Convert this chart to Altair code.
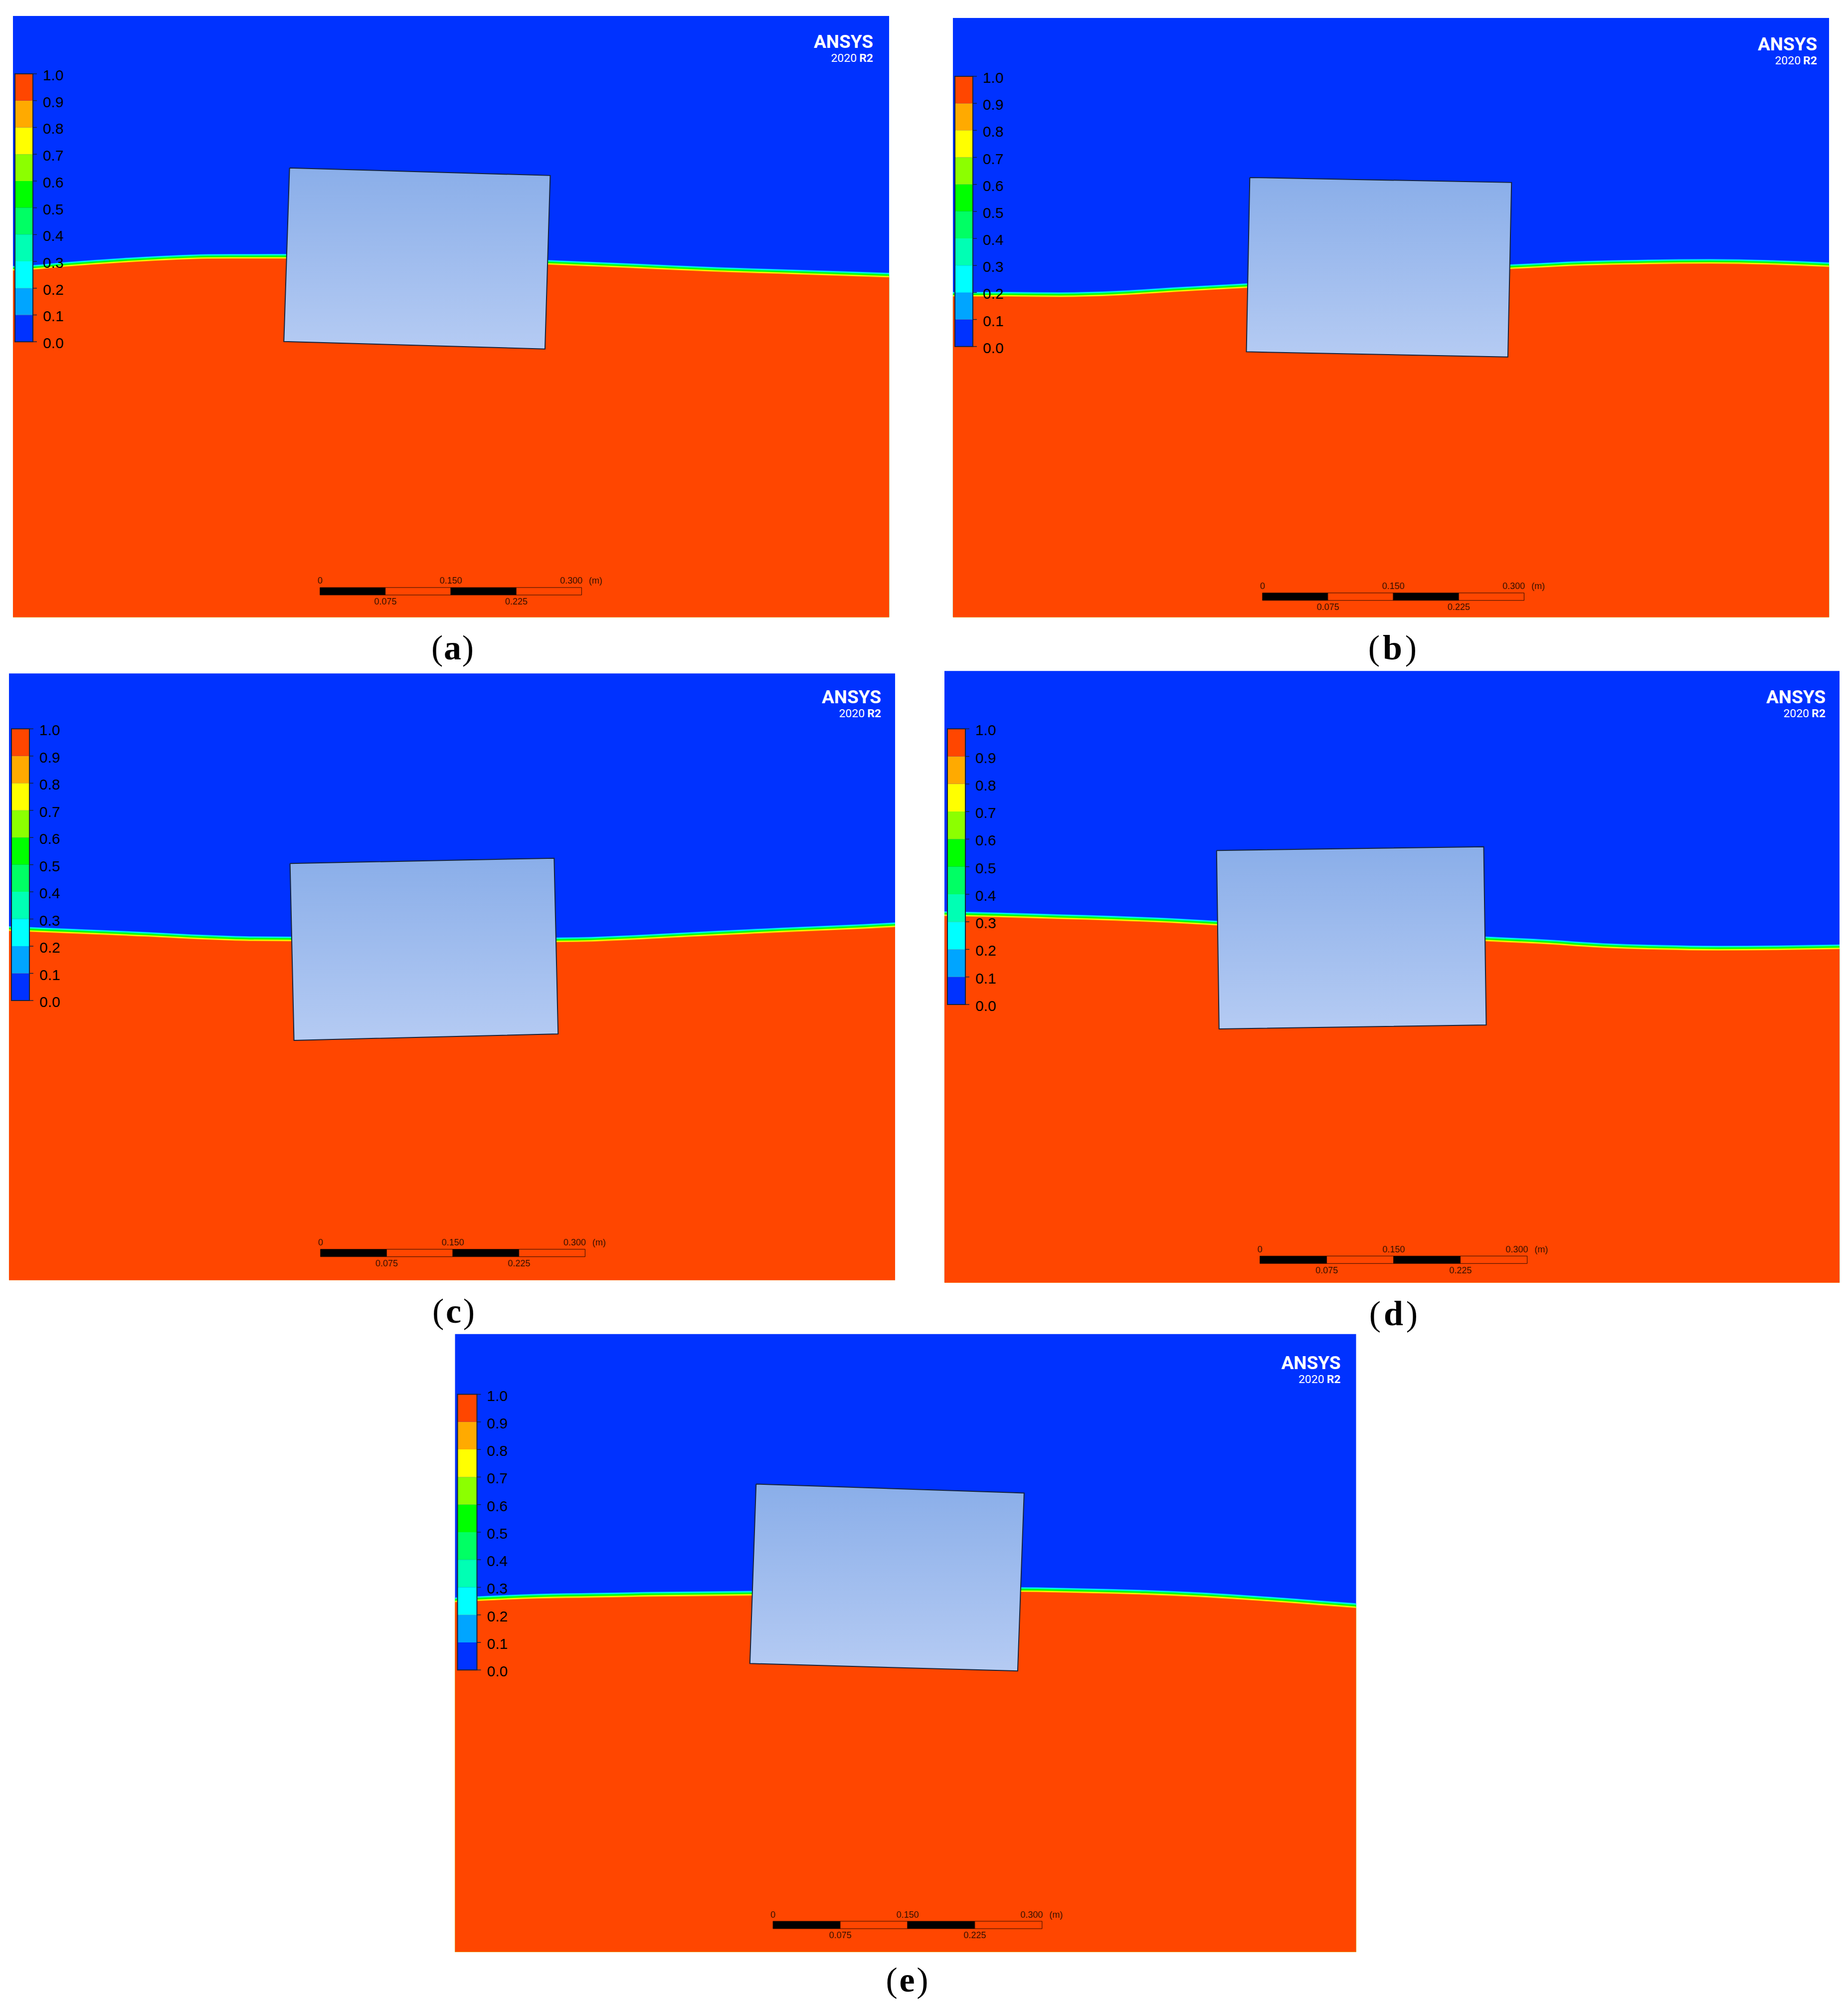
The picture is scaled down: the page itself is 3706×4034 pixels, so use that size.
import altair as alt
import pandas as pd

# ---- values, in metres (x from the panel's left edge, y from its bottom) ----
letters = ["a", "b", "c", "d", "e"]

wave_x_a = [0, .0238, .0615, .1263, .1911, .2234, .3131, .6126, .7101, .8074, .9046, 1.0046]
wave_y_a = [.3971, .3983, .4017, .4063, .4097, .4107, .4109, .4040, .4000, .3958, .3926, .3893]
wave_x_b = [0, .0580, .1229, .1877, .2526, .3369, .6385, .6743, .7066, .7714, .8686, .9337, 1.0046]
wave_y_b = [.3674, .3674, .3669, .3686, .3726, .3773, .3989, .4006, .4023, .4040, .4051, .4040, .4013]
wave_x_c = [0, .0247, .0927, .1576, .2226, .2678, .3198, .6201, .6441, .7090, .7740, .8388, .9034, .9684, 1.0045]
wave_y_c = [.3957, .3947, .3919, .3891, .3859, .3844, .3840, .3829, .3832, .3857, .3891, .3923, .3953, .3981, .4000]
wave_x_d = [0, .0617, .1263, .1909, .2554, .3058, .6073, .6751, .7397, .8043, .8686, .9333, 1.0045]
wave_y_d = [.4112, .4098, .4079, .4060, .4034, .4006, .3829, .3796, .3754, .3734, .3725, .3729, .3740]
wave_x_e = [0, .0278, .0922, .1567, .2211, .3309, .6306, .7050, .7694, .8339, .8983, .9628, 1.0044]
wave_y_e = [.3896, .3910, .3936, .3947, .3958, .3969, .4010, .3996, .3979, .3951, .3910, .3862, .3831]

# floating body corners: top-left, top-right, bottom-right, bottom-left
body_x_a = [.3171, .6160, .6100, .3106]
body_y_a = [.5149, .5063, .3074, .3160]
body_x_b = [.3404, .6405, .6363, .3365]
body_y_b = [.5040, .4983, .2983, .3042]
body_x_c = [.3186, .6180, .6225, .3231]
body_y_c = [.4723, .4782, .2791, .2718]
body_x_d = [.3054, .6052, .6080, .3082]
body_y_d = [.4849, .4891, .2891, .2847]
body_x_e = [.3356, .6344, .6272, .3287]
body_y_e = [.5214, .5114, .3131, .3214]

waves = dict(a=(wave_x_a, wave_y_a), b=(wave_x_b, wave_y_b), c=(wave_x_c, wave_y_c),
             d=(wave_x_d, wave_y_d), e=(wave_x_e, wave_y_e))
bodies = dict(a=(body_x_a, body_y_a), b=(body_x_b, body_y_b), c=(body_x_c, body_y_c),
              d=(body_x_d, body_y_d), e=(body_x_e, body_y_e))

# scale bar
bar_ticks = [0, .075, .15, .225, .3]
bar_start = dict(a=.3520, b=.3549, c=.3531, d=.3540, e=.3544)
bar_y = dict(a=.0297, b=.0235, c=.0308, d=.0257, e=.0300)

# colour legend
legend_levels = [0.0, 0.1, 0.2, 0.3, 0.4, 0.5, 0.6, 0.7, 0.8, 0.9, 1.0]
legend_labels = ["0.0", "0.1", "0.2", "0.3", "0.4", "0.5", "0.6", "0.7", "0.8", "0.9", "1.0"]
legend_colors = ["#0032ff", "#00a5ff", "#00ffff", "#00ffb4", "#00ff64", "#00ff00",
                 "#8cff00", "#ffff00", "#ffaa00", "#ff4600"]

BLUE = "#0032ff"
RED = "#ff4600"
# interface layers, from the air side to the water side: offset above the water line (m), colour
band_offsets = [.0055, .0050, .0042, .0035, .0020, .0016, .0006, 0]
band_colors = ["#00a5ff", "#00ffff", "#00ffa0", "#00ff00", "#90ff00", "#ffff00", "#ffa500", RED]

# ---- layout on the page, in pixels: panel box, px per metre, page cell ----
box = dict(a=(26, 31, 1784, 1237), b=(1912, 35, 3670, 1237), c=(18, 1350, 1796, 2567),
           d=(1895, 1345, 3691, 2572), e=(913, 2675, 2721, 3914.5))
kpm = dict(a=1750, b=1750, c=1770, d=1788, e=1800)
cell = dict(a=(18, 31, 1850, 1345), b=(1850, 31, 3700, 1345), c=(18, 1345, 1850, 2675),
            d=(1850, 1345, 3700, 2675), e=(18, 2675, 3700, 4020))
cb_left = dict(a=4, b=4, c=5, d=6, e=5)
cb_w = dict(a=36, b=36, c=36, d=36, e=39)
cb_top = dict(a=116, b=117, c=111, d=116, e=121)
cb_h = dict(a=537.5, b=542, c=545, d=553, e=553)
logo_right = dict(a=32, b=24, c=28, d=28, e=31)
logo_top = dict(a=53, b=54, c=49, d=54, e=59)
caption_below = dict(a=85, b=85, c=85, d=85, e=80)
caption_gap = dict(a=31, b=37, c=31, d=37, e=31)

SANS = "Liberation Sans"
LOGO = "Roboto"
DARK = "#14233c"


def polygon_area(xs, ys):
    """Upper and lower outline of a convex quadrilateral, sampled at its corner x values."""
    out = []
    for x in sorted(xs):
        hits = []
        for i in range(4):
            x1, y1, x2, y2 = xs[i], ys[i], xs[(i + 1) % 4], ys[(i + 1) % 4]
            if min(x1, x2) <= x <= max(x1, x2) and x1 != x2:
                hits.append(y1 + (y2 - y1) * (x - x1) / (x2 - x1))
        out.append(dict(x=x, y=max(hits), y2=min(hits)))
    return pd.DataFrame(out)


def panel(p):
    bx0, by0, bx1, by1 = box[p]
    k = kpm[p]
    cx0, cy0, cx1, cy1 = cell[p]
    W, H = (bx1 - bx0) / k, (by1 - by0) / k
    dom_x = [(cx0 - bx0) / k, (cx1 - bx0) / k]
    dom_y = [(by1 - cy1) / k, (by1 - cy0) / k]
    X = lambda f="x": alt.X(f + ":Q", scale=alt.Scale(domain=dom_x, nice=False, zero=False), axis=None)
    Y = lambda f="y": alt.Y(f + ":Q", scale=alt.Scale(domain=dom_y, nice=False, zero=False), axis=None)
    rows = lambda **c: pd.DataFrame(c)
    layers = []

    # air and water
    layers.append(alt.Chart(rows(x=[0], x2=[W], y=[0], y2=[H])).mark_rect(color=BLUE).encode(
        X(), alt.X2("x2:Q"), Y(), alt.Y2("y2:Q")))
    wx, wy = waves[p]
    for off, col in zip(band_offsets, band_colors):
        df = rows(x=wx, y=[v + off for v in wy], y2=[0] * len(wx))
        layers.append(alt.Chart(df).mark_area(color=col, interpolate="monotone").encode(
            X(), Y(), alt.Y2("y2:Q")))

    # body
    bx, by = bodies[p]
    grad = alt.Gradient(gradient="linear", x1=0, x2=0, y1=0, y2=1,
                        stops=[alt.GradientStop(color="#8aaee9", offset=0),
                               alt.GradientStop(color="#b5cbf3", offset=1)])
    layers.append(alt.Chart(polygon_area(bx, by)).mark_area(color=grad).encode(
        X(), Y(), alt.Y2("y2:Q")))
    outline = rows(x=bx + bx[:1], y=by + by[:1], o=list(range(5)))
    layers.append(alt.Chart(outline).mark_line(color=DARK, strokeWidth=2).encode(
        X(), Y(), order="o:Q"))

    # colour legend
    lx0 = cb_left[p] / k
    lx1 = (cb_left[p] + cb_w[p]) / k
    ltop = H - cb_top[p] / k
    lbot = H - (cb_top[p] + cb_h[p]) / k
    ypos = [lbot + v * (ltop - lbot) for v in legend_levels]
    seg = rows(x=[lx0] * 10, x2=[lx1] * 10, y=ypos[:-1], y2=ypos[1:], c=legend_colors)
    layers.append(alt.Chart(seg).mark_rect().encode(
        X(), alt.X2("x2:Q"), Y(), alt.Y2("y2:Q"), alt.Color("c:N", scale=None)))
    layers.append(alt.Chart(rows(x=[lx0], x2=[lx1], y=[lbot], y2=[ltop])).mark_rect(
        fill="transparent", stroke=DARK, strokeWidth=2).encode(
        X(), alt.X2("x2:Q"), Y(), alt.Y2("y2:Q")))
    layers.append(alt.Chart(rows(x=[lx1] * 11, x2=[lx1 + 8 / k] * 11, y=ypos)).mark_rule(
        color=DARK, strokeWidth=1.5).encode(X(), alt.X2("x2:Q"), Y()))
    layers.append(alt.Chart(rows(x=[lx1 + 20 / k] * 11, y=ypos, t=legend_labels)).mark_text(
        font=SANS, fontSize=30, align="left", baseline="middle", dy=4, color="#000000").encode(
        X(), Y(), text="t:N"))

    # scale bar
    s0, sy = bar_start[p], bar_y[p]
    half = 7.5 / k
    tx = [s0 + t for t in bar_ticks]
    qd = rows(x=tx[:-1], x2=tx[1:], y=[sy - half] * 4, y2=[sy + half] * 4,
              c=["#000000", RED, "#000000", RED])
    layers.append(alt.Chart(qd).mark_rect(stroke="#2a0c00", strokeWidth=1).encode(
        X(), alt.X2("x2:Q"), Y(), alt.Y2("y2:Q"), alt.Color("c:N", scale=None)))
    top = rows(x=[tx[0], tx[2], tx[4] - 21 / k, tx[4] + 28 / k], y=[sy] * 4,
               t=["0", "0.150", "0.300", "(m)"])
    layers.append(alt.Chart(top).mark_text(font=SANS, fontSize=18, dy=-20, baseline="middle",
                                           color="#3a1000").encode(X(), Y(), text="t:N"))
    bot = rows(x=[tx[1], tx[3]], y=[sy, sy], t=["0.075", "0.225"])
    layers.append(alt.Chart(bot).mark_text(font=SANS, fontSize=18, dy=22, baseline="middle",
                                           color="#3a1000").encode(X(), Y(), text="t:N"))

    # product mark
    lx = W - logo_right[p] / k
    ly = H - logo_top[p] / k
    layers.append(alt.Chart(rows(x=[lx], y=[ly], t=["ANSYS"])).mark_text(
        font=LOGO, fontSize=37, fontWeight="bold", align="right",
        baseline="middle", color="#ffffff").encode(X(), Y(), text="t:N"))
    layers.append(alt.Chart(rows(x=[lx], y=[ly], t=["2020"])).mark_text(
        font=LOGO, fontSize=23, align="right", dx=-33, dy=32,
        baseline="middle", color="#ffffff").encode(X(), Y(), text="t:N"))
    layers.append(alt.Chart(rows(x=[lx], y=[ly], t=["R2"])).mark_text(
        font=LOGO, fontSize=23, fontWeight="bold", align="right", dy=32,
        baseline="middle", color="#ffffff").encode(X(), Y(), text="t:N"))

    # caption
    cap_x = W / 2 + 3 / k
    cap_y = -caption_below[p] / k
    gap = caption_gap[p]
    for txt, weight, shift in [("(", "normal", -gap), (p, "bold", 0), (")", "normal", gap)]:
        layers.append(alt.Chart(rows(x=[cap_x], y=[cap_y], t=[txt])).mark_text(
            font="Liberation Serif", fontSize=70, fontWeight=weight, align="center",
            baseline="alphabetic", dx=shift, color="#000000").encode(X(), Y(), text="t:N"))

    return alt.layer(*layers).properties(width=cx1 - cx0, height=cy1 - cy0)


row1 = alt.hconcat(panel("a"), panel("b"), spacing=0)
row2 = alt.hconcat(panel("c"), panel("d"), spacing=0)
chart = alt.vconcat(row1, row2, panel("e"), spacing=0).properties(
    padding={"left": 10, "top": 23, "right": 0, "bottom": 0},
    background="#ffffff",
).configure_view(stroke=None)

chart.save("out.html", embed_options={"renderer": "svg", "actions": False})
